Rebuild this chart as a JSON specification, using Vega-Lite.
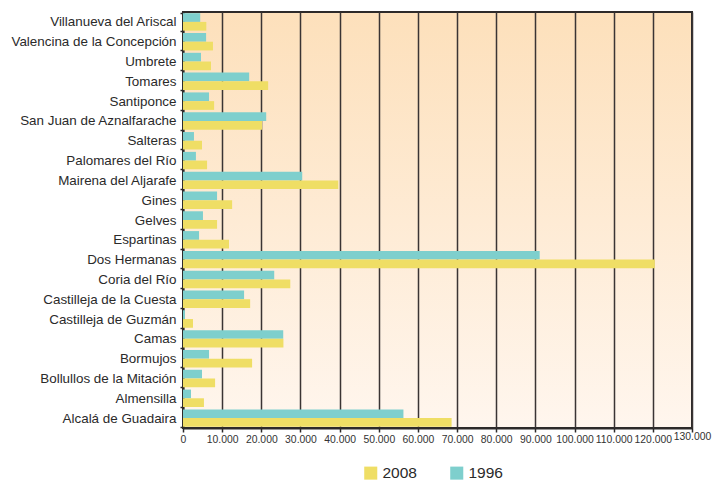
{
  "$schema": "https://vega.github.io/schema/vega-lite/v6.json",
  "width": 509,
  "height": 416,
  "padding": {"left": 10, "top": 5, "right": 5, "bottom": 0},
  "background": "white",
  "config": {
    "locale": {"number": {"decimal": ",", "thousands": ".", "grouping": [3], "currency": ["", " €"]}},
    "font": "Liberation Sans",
    "view": {
      "fill": {"gradient": "linear", "x1": 0, "y1": 0, "x2": 0, "y2": 1,
        "stops": [{"offset": 0, "color": "#fde0bb"}, {"offset": 1, "color": "#fff6ee"}]},
      "stroke": "#2d2a2a",
      "strokeWidth": 2
    }
  },
  "data": {"values": [
    {"municipio": "Villanueva del Ariscal", "anio": "1996", "poblacion": 4400},
    {"municipio": "Villanueva del Ariscal", "anio": "2008", "poblacion": 5950},
    {"municipio": "Valencina de la Concepción", "anio": "1996", "poblacion": 5900},
    {"municipio": "Valencina de la Concepción", "anio": "2008", "poblacion": 7650},
    {"municipio": "Umbrete", "anio": "1996", "poblacion": 4600},
    {"municipio": "Umbrete", "anio": "2008", "poblacion": 7150},
    {"municipio": "Tomares", "anio": "1996", "poblacion": 16900},
    {"municipio": "Tomares", "anio": "2008", "poblacion": 21750},
    {"municipio": "Santiponce", "anio": "1996", "poblacion": 6650},
    {"municipio": "Santiponce", "anio": "2008", "poblacion": 7950},
    {"municipio": "San Juan de Aznalfarache", "anio": "1996", "poblacion": 21250},
    {"municipio": "San Juan de Aznalfarache", "anio": "2008", "poblacion": 20200},
    {"municipio": "Salteras", "anio": "1996", "poblacion": 2800},
    {"municipio": "Salteras", "anio": "2008", "poblacion": 4850},
    {"municipio": "Palomares del Río", "anio": "1996", "poblacion": 3300},
    {"municipio": "Palomares del Río", "anio": "2008", "poblacion": 6150},
    {"municipio": "Mairena del Aljarafe", "anio": "1996", "poblacion": 30450},
    {"municipio": "Mairena del Aljarafe", "anio": "2008", "poblacion": 39650},
    {"municipio": "Gines", "anio": "1996", "poblacion": 8700},
    {"municipio": "Gines", "anio": "2008", "poblacion": 12550},
    {"municipio": "Gelves", "anio": "1996", "poblacion": 5100},
    {"municipio": "Gelves", "anio": "2008", "poblacion": 8700},
    {"municipio": "Espartinas", "anio": "1996", "poblacion": 4100},
    {"municipio": "Espartinas", "anio": "2008", "poblacion": 11750},
    {"municipio": "Dos Hermanas", "anio": "1996", "poblacion": 91100},
    {"municipio": "Dos Hermanas", "anio": "2008", "poblacion": 120500},
    {"municipio": "Coria del Río", "anio": "1996", "poblacion": 23300},
    {"municipio": "Coria del Río", "anio": "2008", "poblacion": 27400},
    {"municipio": "Castilleja de la Cuesta", "anio": "1996", "poblacion": 15600},
    {"municipio": "Castilleja de la Cuesta", "anio": "2008", "poblacion": 17150},
    {"municipio": "Castilleja de Guzmán", "anio": "1996", "poblacion": 500},
    {"municipio": "Castilleja de Guzmán", "anio": "2008", "poblacion": 2550},
    {"municipio": "Camas", "anio": "1996", "poblacion": 25600},
    {"municipio": "Camas", "anio": "2008", "poblacion": 25650},
    {"municipio": "Bormujos", "anio": "1996", "poblacion": 6650},
    {"municipio": "Bormujos", "anio": "2008", "poblacion": 17650},
    {"municipio": "Bollullos de la Mitación", "anio": "1996", "poblacion": 4850},
    {"municipio": "Bollullos de la Mitación", "anio": "2008", "poblacion": 8200},
    {"municipio": "Almensilla", "anio": "1996", "poblacion": 2050},
    {"municipio": "Almensilla", "anio": "2008", "poblacion": 5350},
    {"municipio": "Alcalá de Guadaira", "anio": "1996", "poblacion": 56300},
    {"municipio": "Alcalá de Guadaira", "anio": "2008", "poblacion": 68600}
  ]},
  "mark": {"type": "bar"},
  "encoding": {
    "y": {
      "field": "municipio", "type": "nominal",
      "sort": ["Villanueva del Ariscal", "Valencina de la Concepción", "Umbrete", "Tomares", "Santiponce", "San Juan de Aznalfarache", "Salteras", "Palomares del Río", "Mairena del Aljarafe", "Gines", "Gelves", "Espartinas", "Dos Hermanas", "Coria del Río", "Castilleja de la Cuesta", "Castilleja de Guzmán", "Camas", "Bormujos", "Bollullos de la Mitación", "Almensilla", "Alcalá de Guadaira"],
      "scale": {"paddingInner": 0.12, "paddingOuter": 0.06},
      "axis": {
        "title": null, "labelFontSize": 13.4, "labelColor": "#2a2a2a",
        "domainColor": "#2d2a2a", "domainWidth": 2,
        "tickBand": "extent", "tickColor": "#2d2a2a", "tickSize": 3, "tickWidth": 1.5,
        "labelPadding": 4
      }
    },
    "yOffset": {"field": "anio", "type": "nominal", "scale": {"domain": ["1996", "2008"]}},
    "x": {
      "field": "poblacion", "type": "quantitative",
      "scale": {"domain": [0, 130000], "nice": false},
      "axis": {
        "title": null,
        "values": [0, 10000, 20000, 30000, 40000, 50000, 60000, 70000, 80000, 90000, 100000, 110000, 120000, 130000],
        "format": ",d", "labelFontSize": 10.4, "labelColor": "#333333",
        "grid": true, "gridColor": "#3a3434", "gridWidth": 1.5, "gridOpacity": 1,
        "domainColor": "#2d2a2a", "domainWidth": 2,
        "tickColor": "#2d2a2a", "tickSize": 4, "tickWidth": 1.5,
        "labelPadding": {"condition": {"test": "datum.value == 130000", "value": -1}, "value": 2},
        "labelFlush": false, "labelOverlap": false
      }
    },
    "color": {
      "field": "anio", "type": "nominal",
      "scale": {"domain": ["2008", "1996"], "range": ["#efde65", "#7ecfcd"]},
      "legend": {
        "title": null, "orient": "none", "legendX": 180, "legendY": 453, "direction": "horizontal",
        "symbolType": "square", "symbolSize": 170, "symbolStrokeWidth": 0, "symbolOpacity": 1,
        "labelFontSize": 15.5, "labelColor": "#2a2a2a", "columnPadding": 32, "labelOffset": 4
      }
    }
  }
}
